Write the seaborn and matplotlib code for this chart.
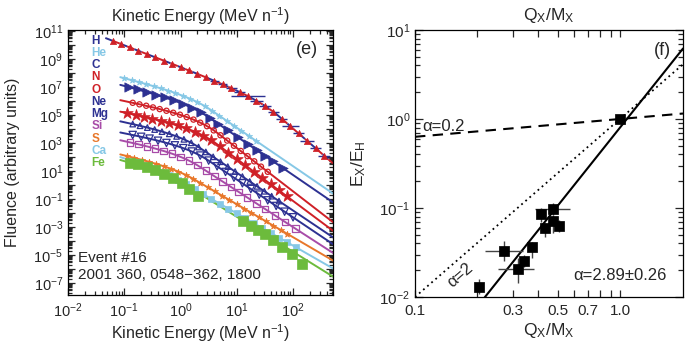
import numpy as np
import matplotlib
matplotlib.use('Agg')
import matplotlib.pyplot as plt
import seaborn as sns
from matplotlib.ticker import LogLocator, FuncFormatter, FixedLocator, FixedFormatter, NullFormatter

sns.set_theme(style='ticks')
plt.rcParams['font.family'] = ['Liberation Sans', 'DejaVu Sans']
plt.rcParams['mathtext.fontset'] = 'custom'
plt.rcParams['mathtext.rm'] = 'Liberation Sans'
plt.rcParams['mathtext.it'] = 'Liberation Sans:italic'
plt.rcParams['mathtext.bf'] = 'Liberation Sans:bold'

# ---- panel (e): fluence spectra ----
species = ['H', 'He', 'C', 'N', 'O', 'Ne', 'Mg', 'Si', 'S', 'Ca', 'Fe']
sp_colors = ['#2d3192', '#86c8e6', '#2d3192', '#cf2027', '#cf2027', '#2d3192',
             '#2d3192', '#a84ca8', '#e8772a', '#86c8e6', '#6cbb3c']

# Band-function fits: log10 norm, low/high index, e-fold energy
fit_logc = [8.43, 6.65, 6.10, 5.22, 4.40, 3.72, 2.97, 2.37, 1.25, 0.75, 0.76]
fit_ga = [1.55, 1.0, 1.0, 0.8, 0.8, 0.8, 0.75, 0.8, 0.9, 1.2, 1.0]
fit_gb = [3.5, 2.75, 2.75, 3.1, 3.0, 2.7, 2.7, 2.6, 2.35, 2.3, 2.5]
fit_e0 = [30, 2.0, 1.8, 2.0, 2.0, 1.2, 1.6, 1.2, 1.2, 0.9, 0.8]
fit_emin = [0.046, 0.085, 0.085, 0.085, 0.085, 0.085, 0.085, 0.085, 0.085, 0.085, 0.085]

# measured points, log10(E) and log10(fluence)
loge = {
    'H': [-1.2, -1.05, -0.9, -0.75, -0.6, -0.45, -0.3, -0.15, 0.0, 0.15, 0.3, 0.45, 0.6,
          0.75, 0.9, 1.05, 1.2, 1.35, 1.5, 1.65, 1.8, 1.95, 2.1, 2.25, 2.4, 2.55],
    'He': [-1.0, -0.87, -0.74, -0.61, -0.48, -0.35, -0.22, -0.09, 0.04, 0.17, 0.3, 0.43,
           0.56, 0.69, 0.82, 0.95, 1.08, 1.21, 1.34],
    'C': [-0.92, -0.76, -0.6, -0.44, -0.28, -0.12, 0.04, 0.2, 0.36, 0.52, 0.67, 0.84,
          1.02, 1.2, 1.36, 1.5, 1.64, 1.82],
    'N': [-0.85, -0.73, -0.61, -0.49, -0.37, -0.25, -0.13, -0.01, 0.11, 0.23, 0.35, 0.47,
          0.59, 0.71, 0.83, 0.95, 1.07, 1.19, 1.31, 1.43, 1.55],
    'O': [-0.95, -0.8, -0.65, -0.5, -0.35, -0.2, -0.05, 0.1, 0.25, 0.4, 0.55, 0.7, 0.85,
          1.0, 1.15, 1.3, 1.45, 1.6, 1.75, 1.89],
    'Ne': [-0.85, -0.72, -0.59, -0.46, -0.33, -0.2, -0.07, 0.06, 0.19, 0.32, 0.45, 0.58,
           0.71, 0.84, 0.97, 1.1, 1.23, 1.36, 1.49, 1.62, 1.75],
    'Mg': [-0.85, -0.7, -0.55, -0.4, -0.25, -0.1, 0.05, 0.2, 0.35, 0.5, 0.65, 0.8, 0.95,
           1.1, 1.25, 1.4, 1.55, 1.7, 1.85, 2.0],
    'Si': [-0.9, -0.75, -0.6, -0.45, -0.3, -0.15, 0.0, 0.15, 0.3, 0.45, 0.6, 0.75, 0.9,
           1.03, 1.18, 1.35, 1.5, 1.68, 1.86, 2.04],
    'S': [-0.95, -0.82, -0.69, -0.56, -0.43, -0.3, -0.17, -0.04, 0.09, 0.22, 0.35, 0.48,
          0.61, 0.74, 0.87, 1.0, 1.13, 1.26, 1.39, 1.52, 1.65, 1.78, 1.9],
    'Ca': [-0.8, -0.65, -0.5, -0.35, -0.2, -0.05, 0.1, 0.25, 0.4, 0.55, 0.7, 0.85, 1.0,
           1.15, 1.3, 1.45, 1.6, 1.75, 1.9, 2.05],
    'Fe': [-0.898, -0.75, -0.601, -0.453, -0.293, -0.139, 0.021, 0.156, 0.316,
           1.117, 1.253, 1.373, 1.502, 1.65, 1.799, 1.988, 2.165],
}
logf = {
    'H': [10.29, 10.06, 9.82, 9.59, 9.36, 9.12, 8.89, 8.65, 8.42, 8.18, 7.94, 7.69, 7.44,
          7.19, 6.92, 6.64, 6.34, 6.01, 5.65, 5.23, 4.73, 4.20, 3.68, 3.15, 2.63, 2.10],
    'He': [7.63, 7.49, 7.35, 7.21, 7.06, 6.90, 6.74, 6.56, 6.37, 6.16, 5.92, 5.64, 5.30,
           4.94, 4.59, 4.23, 3.87, 3.51, 3.16],
    'C': [6.99, 6.82, 6.64, 6.45, 6.25, 6.04, 5.80, 5.52, 5.19, 4.78, 4.37, 3.90, 3.41,
          2.91, 2.47, 2.09, 1.70, 1.21],
    'N': [5.87, 5.76, 5.66, 5.54, 5.42, 5.30, 5.16, 5.02, 4.85, 4.67, 4.45, 4.20, 3.90,
          3.55, 3.17, 2.80, 2.43, 2.06, 1.69, 1.31, 0.94],
    'O': [5.14, 5.01, 4.87, 4.73, 4.58, 4.42, 4.25, 4.05, 3.81, 3.53, 3.19, 2.76, 2.31,
          1.86, 1.41, 0.96, 0.51, 0.06, -0.39, -0.81],
    'Ne': [4.35, 4.23, 4.10, 3.96, 3.81, 3.65, 3.47, 3.26, 3.01, 2.71, 2.36, 2.01, 1.66,
           1.31, 0.96, 0.60, 0.25, -0.10, -0.45, -0.80, -1.15],
    'Mg': [3.57, 3.44, 3.31, 3.16, 3.00, 2.83, 2.63, 2.39, 2.10, 1.74, 1.33, 0.93, 0.52,
           0.12, -0.29, -0.69, -1.10, -1.50, -1.91, -2.31],
    'Si': [3.04, 2.91, 2.76, 2.60, 2.43, 2.23, 2.01, 1.74, 1.41, 1.02, 0.63, 0.24, -0.15,
           -0.49, -0.88, -1.32, -1.71, -2.18, -2.65, -3.11],
    'S': [2.06, 1.93, 1.80, 1.65, 1.50, 1.34, 1.16, 0.96, 0.72, 0.45, 0.15, -0.16, -0.46,
          -0.77, -1.08, -1.38, -1.69, -1.99, -2.30, -2.60, -2.91, -3.21, -3.50],
    'Ca': [1.63, 1.42, 1.20, 0.95, 0.69, 0.38, 0.04, -0.31, -0.65, -1.00, -1.34, -1.69,
           -2.03, -2.38, -2.72, -3.07, -3.41, -3.76, -4.10, -4.45],
    'Fe': [1.59, 1.50, 1.31, 1.07, 0.79, 0.48, 0.12, -0.31, -0.76, -2.57, -2.91, -3.21,
           -3.52, -3.93, -4.41, -4.93, -5.64],
}
# half-widths (dex) of the blue energy bars on the H points
h_xerr = [0, 0, 0, 0, 0, 0, 0, 0, 0, 0, 0, 0, 0.08, 0.08, 0.1, 0.1, 0.3, 0.12, 0.1,
          0.1, 0.1, 0.15, 0.1, 0.12, 0.1, 0.1]

# marker style per species: (marker, size, filled)
sp_marker = {'H': ('^', 20, True), 'He': ('*', 22, True), 'C': ('>', 45, True),
             'N': ('o', 14, False), 'O': ('*', 75, True), 'Ne': ('^', 16, False),
             'Mg': ('v', 28, False), 'Si': ('s', 22, False), 'S': ('*', 22, True),
             'Ca': ('s', 14, True), 'Fe': ('s', 50, True)}

# ---- panel (f): E_X/E_H vs Q_X/M_X ----
qm = [1.0, 0.504, 0.473, 0.473, 0.429, 0.410, 0.372, 0.340, 0.319, 0.273, 0.206]
eratio = [1.0, 0.063, 0.0966, 0.072, 0.059, 0.085, 0.0361, 0.0256, 0.0207, 0.0329, 0.0131]
eratio_lo = [0.93, 0.0542, 0.0834, 0.052, 0.0476, 0.070, 0.0272, 0.0219, 0.0143, 0.0251, 0.0109]
eratio_hi = [1.07, 0.0733, 0.113, 0.0834, 0.0673, 0.0993, 0.0419, 0.0297, 0.0272, 0.0427, 0.0158]
qm_lo = [1.0, 0.504, 0.385, 0.473, 0.429, 0.410, 0.372, 0.340, 0.255, 0.220, 0.206]
qm_hi = [1.0, 0.504, 0.570, 0.473, 0.429, 0.410, 0.372, 0.340, 0.382, 0.337, 0.206]
alpha_ref = [0.2, 2.0]
alpha_fit = 2.89
fit_norm = 0.80


def band(e, logc, ga, gb, e0):
    eb = (gb - ga) * e0
    lo = logc - ga * np.log10(e) - e / e0 * np.log10(np.e)
    hi = logc - gb * np.log10(e) + (gb - ga) * np.log10(eb) - (gb - ga) * np.log10(np.e)
    return 10 ** np.where(e <= eb, lo, hi)


fig = plt.figure(figsize=(6.85, 3.43), dpi=100)
ax1 = fig.add_axes([68 / 685, 48 / 343, 265 / 685, 265 / 343])
ax2 = fig.add_axes([415 / 685, 46 / 343, 268 / 685, 267 / 343])

ax1.set_xscale('log')
ax1.set_yscale('log')
emax = 513
for i, sp in enumerate(species):
    c = sp_colors[i]
    egrid = np.logspace(np.log10(fit_emin[i]), np.log10(emax), 300)
    fgrid = band(egrid, fit_logc[i], fit_ga[i], fit_gb[i], fit_e0[i])
    if sp == 'H':
        sns.lineplot(x=egrid, y=fgrid, ax=ax1, color='#2d3192', lw=1.4,
                     linestyle=(0, (4, 4)), estimator=None, sort=False, zorder=2)
        sns.lineplot(x=egrid, y=fgrid, ax=ax1, color='#cf2027', lw=1.4,
                     linestyle=(4, (4, 4)), estimator=None, sort=False, zorder=2)
        mc = '#cf2027'
    else:
        sns.lineplot(x=egrid, y=fgrid, ax=ax1, color=c, lw=1.4,
                     estimator=None, sort=False, zorder=2)
        mc = c
    x = 10 ** np.array(loge[sp])
    y = 10 ** np.array(logf[sp])
    m, s, filled = sp_marker[sp]
    if sp == 'H':
        d = np.array(h_xerr)
        sel = d > 0
        ax1.errorbar(x[sel], y[sel], xerr=[x[sel] - x[sel] * 10 ** -d[sel], x[sel] * 10 ** d[sel] - x[sel]],
                     fmt='none', ecolor='#2d3192', elinewidth=1.0, capsize=0, zorder=3)
    if filled:
        sns.scatterplot(x=x, y=y, ax=ax1, marker=m, s=s, color=mc, edgecolor=mc,
                        linewidth=0.5, zorder=4, legend=False)
    else:
        sns.scatterplot(x=x, y=y, ax=ax1, marker=m, s=s, facecolor='none', edgecolor=mc,
                        linewidth=0.9, zorder=4, legend=False)

ax1.set_xlim(0.01, emax)
ax1.set_ylim(10 ** -7.86, 10 ** 11.07)


def exp_fmt(v, pos):
    k = int(round(np.log10(v)))
    return '$10^{%d}$' % k


def odd_exp_fmt(v, pos):
    k = int(round(np.log10(v)))
    return '$10^{%d}$' % k if k % 2 else ''


ax1.xaxis.set_major_locator(LogLocator(base=10, numticks=20))
ax1.xaxis.set_minor_locator(LogLocator(base=10, subs=np.arange(2, 10), numticks=20))
ax1.xaxis.set_major_formatter(FuncFormatter(exp_fmt))
ax1.xaxis.set_minor_formatter(NullFormatter())
ax1.yaxis.set_major_locator(LogLocator(base=10, numticks=40))
ax1.yaxis.set_minor_locator(LogLocator(base=10, subs=np.arange(2, 10), numticks=40))
ax1.yaxis.set_major_formatter(FuncFormatter(odd_exp_fmt))
ax1.yaxis.set_minor_formatter(NullFormatter())
ax1.tick_params(which='both', direction='in', top=True, right=True, width=0.9, labelsize=10.5)
ax1.tick_params(which='major', length=5)
ax1.tick_params(which='minor', length=3)
ax1.tick_params(axis='x', pad=4.5)

ax1.set_xlabel('Kinetic Energy (MeV n$^{-1}$)', fontsize=11.5, labelpad=2)
ax1.set_title('Kinetic Energy (MeV n$^{-1}$)', fontsize=11.5, pad=6)
ax1.set_ylabel('Fluence (arbitrary units)', fontsize=11.5, labelpad=10)

for i, sp in enumerate(species):
    ax1.text(0.089, 0.96 - i * 0.0463, sp, transform=ax1.transAxes, color=sp_colors[i],
             fontsize=8.5, fontweight='bold', va='center', ha='left')
ax1.text(0.90, 0.925, '(e)', transform=ax1.transAxes, fontsize=13, ha='center', va='center')
ax1.text(0.038, 0.14, 'Event #16', transform=ax1.transAxes, fontsize=11, ha='left', va='center')
ax1.text(0.038, 0.075, '2001 360, 0548\u2212362, 1800', transform=ax1.transAxes,
         fontsize=11, ha='left', va='center')

# ---- right panel ----
ax2.set_xscale('log')
ax2.set_yscale('log')
qgrid = np.logspace(-1, np.log10(2.03), 100)
sns.lineplot(x=qgrid, y=qgrid ** alpha_ref[0], ax=ax2, color='black', lw=1.5,
             linestyle=(0, (5, 3.5)), estimator=None, sort=False)
sns.lineplot(x=qgrid, y=qgrid ** alpha_ref[1], ax=ax2, color='black', lw=1.3,
             linestyle=(0, (1, 2)), estimator=None, sort=False)
sns.lineplot(x=qgrid, y=fit_norm * qgrid ** alpha_fit, ax=ax2, color='black', lw=1.5,
             estimator=None, sort=False)

qa = np.array(qm)
ea = np.array(eratio)
ax2.errorbar(qa, ea, xerr=[qa - np.array(qm_lo), np.array(qm_hi) - qa],
             yerr=[ea - np.array(eratio_lo), np.array(eratio_hi) - ea],
             fmt='none', ecolor='#444444', elinewidth=1.0, capsize=0, zorder=3)
sns.scatterplot(x=qa, y=ea, ax=ax2, marker='s', s=42, color='black', edgecolor='black',
                zorder=4, legend=False)

ax2.set_xlim(0.1, 2.03)
ax2.set_ylim(0.01, 10)
ax2.xaxis.set_major_locator(FixedLocator([0.1, 0.3, 0.5, 0.7, 1.0]))
ax2.xaxis.set_major_formatter(FixedFormatter(['0.1', '0.3', '0.5', '0.7', '1.0']))
ax2.xaxis.set_minor_locator(FixedLocator([0.2, 0.4, 0.6, 0.8, 0.9]))
ax2.xaxis.set_minor_formatter(NullFormatter())
ax2.yaxis.set_major_locator(LogLocator(base=10, numticks=10))
ax2.yaxis.set_minor_locator(LogLocator(base=10, subs=np.arange(2, 10), numticks=10))
ax2.yaxis.set_major_formatter(FuncFormatter(exp_fmt))
ax2.yaxis.set_minor_formatter(NullFormatter())
ax2.tick_params(which='both', direction='in', top=True, right=True, width=0.9, labelsize=11)
ax2.tick_params(axis='y', which='major', length=6)
ax2.tick_params(axis='y', which='minor', length=3.5)
ax2.tick_params(axis='x', which='both', length=5, pad=5)

ax2.set_xlabel('Q$_\\mathrm{X}$/M$_\\mathrm{X}$', fontsize=12.5, labelpad=2)
ax2.set_title('Q$_\\mathrm{X}$/M$_\\mathrm{X}$', fontsize=12.5, pad=7)
ax2.set_ylabel('E$_\\mathrm{X}$/E$_\\mathrm{H}$', fontsize=12.5, labelpad=8)

ax2.text(0.108, 0.68, '\u03b1=0.2', fontsize=12, ha='left', va='bottom')
ax2.text(0.166, 0.0177, '\u03b1=2', fontsize=12, ha='center', va='center', rotation=41)
ax2.text(1.69, 0.0173, '\u03b1=2.89\u00b10.26', fontsize=12, ha='right', va='center')
ax2.text(0.955, 0.955, '(f)', transform=ax2.transAxes, fontsize=13, ha='right', va='top')

for ax in (ax1, ax2):
    for sp_ in ax.spines.values():
        sp_.set_linewidth(0.9)
        sp_.set_color('black')

fig.savefig('out.png', dpi=100)
